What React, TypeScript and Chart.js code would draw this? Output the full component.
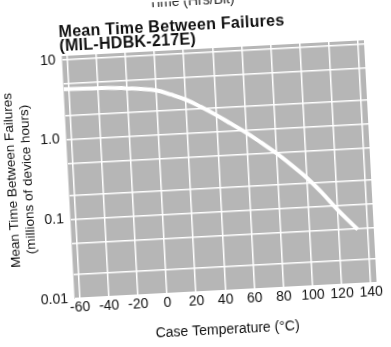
import React, { useEffect, useRef } from 'react';
import { Chart, registerables } from 'chart.js';

Chart.register(...registerables);

// ---- data ----
const temps = [-63.5, -40, -20, 0, 10, 20, 30, 40, 50, 60, 70, 80, 90, 100, 110, 120, 130, 133];
const mtbf = [4.3, 4.2, 4.0, 3.6, 3.12, 2.63, 2.09, 1.62, 1.23, 0.93, 0.68, 0.49, 0.34, 0.23, 0.145, 0.087, 0.055, 0.048];
const xTicks = [-60, -40, -20, 0, 20, 40, 60, 80, 100, 120, 140];
const yTicks = [0.01, 0.02, 0.05, 0.1, 0.2, 0.5, 1, 2, 5, 10];
const yLabels: Record<string, string> = { '0.01': '0.01', '0.1': '0.1', '1': '1.0', '10': '10' };
const titleLines = ['Mean Time Between Failures', '(MIL-HDBK-217E)'];
const yTitleLines = ['Mean Time Between Failures', '(millions of device hours)'];
const xTitle = 'Case Temperature (°C)';
const clippedHeading = 'Time (Hrs/Bit)';

const FONT = "'Liberation Sans', Arial, Helvetica, sans-serif";

const bgPlugin = {
  id: 'plotBg',
  beforeDraw(chart: any) {
    const { ctx, chartArea: a } = chart;
    ctx.save();
    ctx.fillStyle = '#ffffff';
    ctx.fillRect(0, 0, chart.width, chart.height);
    ctx.fillStyle = '#b6b6b6';
    ctx.fillRect(a.left, a.top, a.right - a.left, a.bottom - a.top);
    // clipped heading of the previous figure
    ctx.font = `14px ${FONT}`;
    ctx.fillStyle = '#222';
    ctx.textAlign = 'center';
    ctx.textBaseline = 'alphabetic';
    ctx.fillText(clippedHeading, 201, 5);
    // chart title
    ctx.font = `bold 16px ${FONT}`;
    ctx.fillStyle = '#111';
    ctx.textAlign = 'left';
    (ctx as any).letterSpacing = '0.3px';
    ctx.fillText(titleLines[0], 66.5, 29.5);
    ctx.fillText(titleLines[1], 66.5, 43.5);
    (ctx as any).letterSpacing = '0px';
    ctx.restore();
  },
};

export default function App() {
  const ref = useRef<HTMLCanvasElement | null>(null);

  useEffect(() => {
    if (!ref.current) return;
    Chart.defaults.font.family = FONT;
    const chart = new Chart(ref.current, {
      type: 'line',
      data: {
        datasets: [
          {
            data: temps.map((t, i) => ({ x: t, y: mtbf[i] })),
            borderColor: '#ffffff',
            borderWidth: 4,
            pointRadius: 0,
            tension: 0.4,
            fill: false,
          },
        ],
      },
      options: {
        animation: false,
        responsive: false,
        devicePixelRatio: 1,
        layout: { padding: { left: 0, right: 20, top: 49, bottom: 0 } },
        plugins: {
          legend: { display: false },
          tooltip: { enabled: false },
          title: { display: false },
        },
        scales: {
          x: {
            type: 'linear',
            min: -63.5,
            max: 144,
            afterBuildTicks: (s: any) => {
              s.ticks = xTicks.map((v) => ({ value: v }));
            },
            afterFit: (s: any) => {
              s.height = 55;
            },
            grid: { color: '#ffffff', lineWidth: 1.5, drawTicks: false },
            border: { display: false },
            ticks: {
              padding: 1,
              color: '#111',
              font: { size: 14 },
              maxRotation: 0,
              autoSkip: false,
              callback: (v: any) => String(v),
            },
            title: {
              display: true,
              text: xTitle,
              color: '#111',
              font: { size: 14 },
              padding: { top: 0, bottom: 7 },
            },
          },
          y: {
            type: 'logarithmic',
            min: 0.01,
            max: 11.2,
            afterBuildTicks: (s: any) => {
              s.ticks = yTicks.map((v) => ({ value: v }));
            },
            afterFit: (s: any) => {
              s.width = 68.5;
            },
            grid: { color: '#ffffff', lineWidth: 1.5, drawTicks: false },
            border: { display: false },
            ticks: {
              padding: 6.5,
              color: '#111',
              font: { size: 14 },
              autoSkip: false,
              callback: (v: any) => yLabels[String(v)] ?? '',
            },
            title: {
              display: true,
              text: yTitleLines,
              color: '#111',
              font: { size: 13.5 },
              padding: { top: 4, bottom: 0 },
            },
          },
        },
      } as any,
      plugins: [bgPlugin],
    });
    return () => chart.destroy();
  }, []);

  return (
    <div
      style={{
        position: 'fixed',
        left: 0,
        top: 0,
        width: 391,
        height: 347,
        overflow: 'hidden',
        background: '#fff',
      }}
    >
      <div
        style={{
          width: 391,
          height: 347,
          transform: 'rotate(-3deg)',
          transformOrigin: '200px 180px',
        }}
      >
        <canvas ref={ref} width={391} height={347} style={{ display: 'block' }} />
      </div>
    </div>
  );
}
